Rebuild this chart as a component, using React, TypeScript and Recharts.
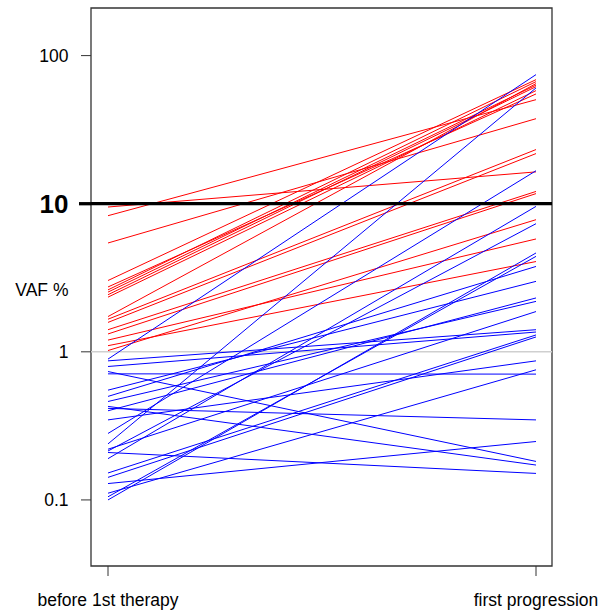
import { LineChart, Line, XAxis, YAxis, ReferenceLine, ReferenceArea } from "recharts"

// VAF % before first therapy -> at first progression, one pair per patient
const redBefore = [9.5, 8.3, 5.43, 3.03, 2.74, 2.62, 2.53, 2.43, 2.34, 1.73, 1.66, 1.58, 1.41, 1.32, 1.2, 1.1, 1.02]
const redAfter = [16.4, 50.4, 37.5, 68.8, 55.1, 66.7, 63.2, 61.7, 58.0, 64.7, 23.2, 21.8, 12.1, 11.7, 5.78, 4.07, 7.8]

const blueBefore = [
  0.209, 0.129, 0.428, 0.736, 0.415, 0.111, 0.71, 0.347, 0.869, 0.893, 0.239, 0.281,
  0.19, 0.214, 0.1, 0.105, 0.152, 0.142, 0.22, 0.796, 0.551, 0.5, 0.462, 0.4,
]
const blueAfter = [
  0.151, 0.248, 0.172, 0.182, 0.347, 0.756, 0.707, 0.869, 1.41, 74.4, 60.5, 16.7,
  9.59, 7.33, 4.65, 4.41, 1.3, 1.26, 1.87, 1.36, 2.99, 3.77, 2.19, 2.31,
]

const xLabels = ["before 1st therapy", "first progression"]
const yTicks = [0.1, 1, 10, 100]
const yTickLabels = ["0.1", "1", "10", "100"]

const FONT = "'Liberation Sans', Arial, sans-serif"
const Y_MIN = 0.0358
const Y_MAX = 209.6
const AXIS_W = 91

const pairs = (before: number[], after: number[]) =>
  before.map((b, i) => [
    { x: 0, v: b },
    { x: 1, v: after[i] },
  ])

const YTick = (props: any) => {
  const { y, payload } = props
  const big = payload.value === 10
  const label = yTickLabels[yTicks.indexOf(payload.value)]
  return (
    <g>
      <line
        x1={big ? 79 : 81}
        x2={AXIS_W}
        y1={y}
        y2={y}
        stroke={big ? "#000" : "#333"}
        strokeWidth={big ? 3.3 : 1}
      />
      <text
        x={68.5}
        y={y}
        dy={big ? 9 : 6}
        textAnchor="end"
        fontFamily={FONT}
        fontSize={big ? 26 : 17.5}
        fontWeight={big ? "bold" : "normal"}
        fill="#000"
      >
        {label}
      </text>
    </g>
  )
}

const XTick = (props: any) => {
  const { x, payload } = props
  return (
    <text x={x} y={606} textAnchor="middle" fontFamily={FONT} fontSize={17.5} fill="#000">
      {xLabels[payload.value]}
    </text>
  )
}

export default function App() {
  const red = pairs(redBefore, redAfter)
  const blue = pairs(blueBefore, blueAfter)
  return (
    <div style={{ position: "absolute", left: 0, top: 0, background: "#fff" }}>
      <LineChart width={601} height={610} margin={{ top: 8, right: 49, bottom: 0, left: 0 }}>
        <XAxis
          type="number"
          dataKey="x"
          domain={[-17 / 428, 1 + 16 / 428]}
          ticks={[0, 1]}
          allowDataOverflow
          height={44}
          axisLine={false}
          tickLine={{ stroke: "#333" }}
          tickSize={10}
          tick={<XTick />}
        />
        <YAxis
          type="number"
          scale="log"
          domain={[Y_MIN, Y_MAX]}
          ticks={yTicks}
          allowDataOverflow
          width={AXIS_W}
          axisLine={false}
          tickLine={false}
          tick={<YTick />}
          label={{
            content: () => (
              <text x={68.5} y={296} textAnchor="end" fontFamily={FONT} fontSize={17.5} fill="#000">
                VAF %
              </text>
            ),
          }}
        />
        <ReferenceLine y={1} stroke="#cfcfcf" strokeWidth={1.6} />
        {red.map((d, i) => (
          <Line
            key={"r" + i}
            data={d}
            dataKey="v"
            stroke="#ff0000"
            strokeWidth={1}
            dot={false}
            isAnimationActive={false}
          />
        ))}
        {blue.map((d, i) => (
          <Line
            key={"b" + i}
            data={d}
            dataKey="v"
            stroke="#0000ff"
            strokeWidth={1}
            dot={false}
            isAnimationActive={false}
          />
        ))}
        <ReferenceLine y={10} stroke="#000" strokeWidth={3.3} />
        <ReferenceArea y1={Y_MIN} y2={Y_MAX} fill="none" stroke="#333" strokeWidth={1.3} ifOverflow="visible" />
      </LineChart>
    </div>
  )
}
